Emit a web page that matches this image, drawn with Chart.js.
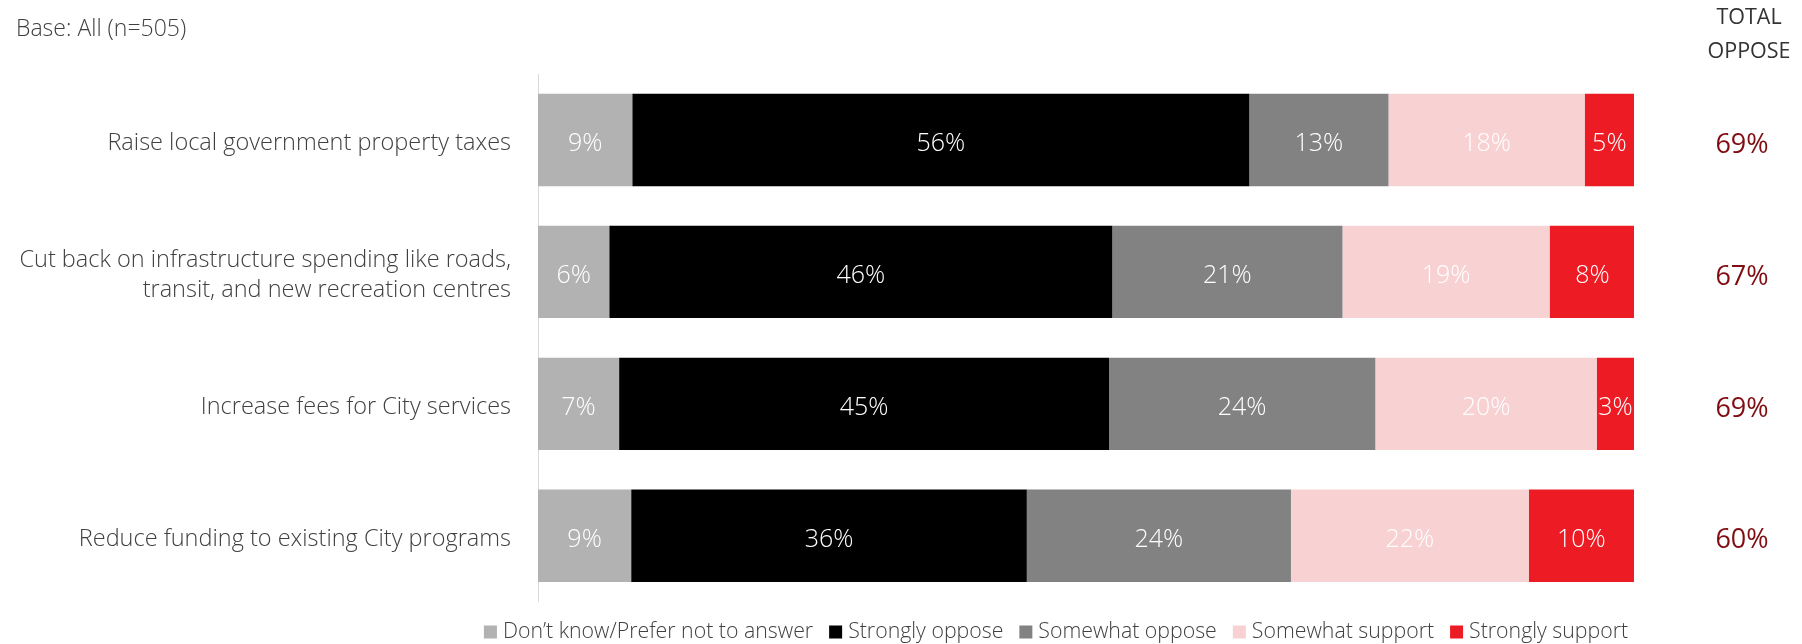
<!DOCTYPE html>
<html>
<head>
<meta charset="utf-8">
<script src="https://cdn.jsdelivr.net/npm/chart.js@4"></script>
<style>
  html, body { margin: 0; padding: 0; background: #fff; }
  #wrap { width: 1802px; height: 644px; position: relative; }
</style>
</head>
<body>
<div id="wrap"><canvas id="chart"></canvas></div>
<script>
const categories = [
    'Raise local government property taxes',
    ['Cut back on infrastructure spending like roads,', 'transit, and new recreation centres'],
    'Increase fees for City services',
    'Reduce funding to existing City programs'
];

// bar widths (share of the full bar)
const dontKnow = [8.6, 6.5, 7.4, 8.5];
const stronglyOppose = [56.3, 45.9, 44.7, 36.1];
const somewhatOppose = [12.7, 21.0, 24.3, 24.1];
const somewhatSupport = [17.9, 18.9, 20.2, 21.7];
const stronglySupport = [4.5, 7.8, 3.4, 9.6];

// the rounded numbers printed on the bars
const dontKnowLabels = [9, 6, 7, 9];
const stronglyOpposeLabels = [56, 46, 45, 36];
const somewhatOpposeLabels = [13, 21, 24, 24];
const somewhatSupportLabels = [18, 19, 20, 22];
const stronglySupportLabels = [5, 8, 3, 10];

const totalOppose = [69, 67, 69, 60];

const FONT = '"Open Sans", "Liberation Sans", sans-serif';

const datasets = [
    { label: 'Don\u2019t know/Prefer not to answer', data: dontKnow, labels: dontKnowLabels, backgroundColor: '#b2b2b2' },
    { label: 'Strongly oppose', data: stronglyOppose, labels: stronglyOpposeLabels, backgroundColor: '#000000' },
    { label: 'Somewhat oppose', data: somewhatOppose, labels: somewhatOpposeLabels, backgroundColor: '#828282' },
    { label: 'Somewhat support', data: somewhatSupport, labels: somewhatSupportLabels, backgroundColor: '#f8d1d3' },
    { label: 'Strongly support', data: stronglySupport, labels: stronglySupportLabels, backgroundColor: '#ed1c24' }
];

const extras = {
    id: 'extras',
    afterDatasetsDraw(chart) {
        const ctx = chart.ctx;
        ctx.save();

        // value labels in the bars
        ctx.font = '300 25px ' + FONT;
        ctx.fillStyle = '#ffffff';
        ctx.textAlign = 'center';
        ctx.textBaseline = 'middle';
        chart.data.datasets.forEach((ds, i) => {
            chart.getDatasetMeta(i).data.forEach((bar, j) => {
                const cx = (bar.x + bar.base) / 2;
                ctx.fillText(ds.labels[j] + '%', cx, bar.y + 4);
            });
        });

        // total oppose column
        const yScale = chart.scales.y;
        ctx.font = '27px ' + FONT;
        ctx.fillStyle = '#7f0d12';
        totalOppose.forEach((v, j) => {
            ctx.fillText(v + '%', 1742, yScale.getPixelForValue(j) + 5);
        });

        ctx.font = '21.5px ' + FONT;
        ctx.fillStyle = '#333333';
        ctx.fillText('TOTAL', 1749, 18);
        ctx.fillText('OPPOSE', 1749, 52);

        ctx.textAlign = 'left';
        ctx.font = '300 23px ' + FONT;
        ctx.fillStyle = '#404040';
        ctx.fillText('Base: All (n=505)', 16, 29);

        // legend
        ctx.font = '300 21.3px ' + FONT;
        const box = 13, gap = 6, itemGap = 16;
        const widths = chart.data.datasets.map(ds => box + gap + ctx.measureText(ds.label).width);
        const total = widths.reduce((a, b) => a + b, 0) + itemGap * (widths.length - 1);
        let x = 1056 - total / 2;
        const ly = 632;
        chart.data.datasets.forEach((ds, i) => {
            ctx.fillStyle = ds.backgroundColor;
            ctx.fillRect(x, ly - box / 2, box, box);
            ctx.fillStyle = '#404040';
            ctx.fillText(ds.label, x + box + gap, ly);
            x += widths[i] + itemGap;
        });

        ctx.restore();
    }
};

new Chart(document.getElementById('chart'), {
    type: 'bar',
    data: { labels: categories, datasets: datasets },
    options: {
        indexAxis: 'y',
        responsive: true,
        maintainAspectRatio: false,
        animation: false,
        barPercentage: 0.7,
        categoryPercentage: 1,
        layout: { padding: { top: 74, bottom: 37, right: 168, left: 0 } },
        plugins: { legend: { display: false }, tooltip: { enabled: false } },
        scales: {
            x: { stacked: true, min: 0, max: 100, display: false },
            y: {
                stacked: true,
                afterFit(scale) { scale.width = 538; },
                grid: { display: false, drawTicks: false },
                border: { display: true, color: '#d9d9d9', width: 1 },
                ticks: {
                    padding: 27,
                    labelOffset: 3.5,
                    color: '#404040',
                    font: { family: FONT, size: 23.5, weight: 300, lineHeight: 1.3 }
                }
            }
        }
    },
    plugins: [extras]
});
</script>
</body>
</html>
